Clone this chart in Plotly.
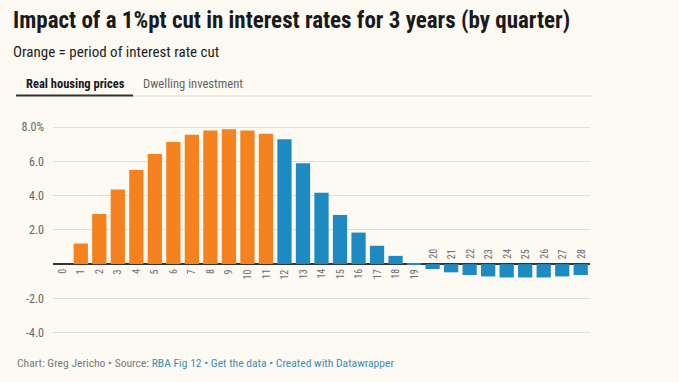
import plotly.graph_objects as go

# ---- data ----
quarters = list(range(29))
quarter_labels = [str(q) for q in quarters]
housing_prices = [0.0, 1.2, 2.93, 4.36, 5.5, 6.43, 7.13, 7.56, 7.81, 7.87, 7.81, 7.62,
                  7.29, 5.89, 4.17, 2.87, 1.84, 1.07, 0.48, 0.02,
                  -0.29, -0.48, -0.64, -0.72, -0.78, -0.78, -0.78, -0.72, -0.64]
cut_period_end = 11  # quarters 0..11 are the interest-rate-cut period
y_tick_vals = [-4, -2, 2, 4, 6, 8]
y_tick_text = ["-4.0", "-2.0", "2.0", "4.0", "6.0", "8.0%"]

title = "Impact of a 1%pt cut in interest rates for 3 years (by quarter)"
subtitle = "Orange = period of interest rate cut"
tabs = ["Real housing prices", "Dwelling investment"]

ORANGE = "#f5821f"
BLUE = "#1e8ac2"
BG = "#fdf9f3"
FONT = "Roboto Condensed, Liberation Sans Narrow, Roboto, sans-serif"

W, H = 679, 382
L, R, T, B = 53, 89, 122, 46
PW, PH = W - L - R, H - T - B


def px_x(px):
    return (px - L) / PW


def px_y(py):
    return (H - B - py) / PH


colors = [ORANGE if q <= cut_period_end else BLUE for q in quarters]

fig = go.Figure(
    go.Bar(x=quarters, y=housing_prices, marker=dict(color=colors, line=dict(width=0)),
           hoverinfo="x+y")
)

annotations = []
# rotated quarter labels: below axis for positive bars, above for negative bars
for q, lab, v in zip(quarters, quarter_labels, housing_prices):
    if v >= 0:
        annotations.append(dict(x=q, y=0, text=lab, textangle=-90, showarrow=False,
                                yanchor="top", xanchor="center", yshift=-3,
                                font=dict(size=10, color="#6b6b6b", family=FONT)))
    else:
        annotations.append(dict(x=q, y=0, text=lab, textangle=-90, showarrow=False,
                                yanchor="bottom", xanchor="center", yshift=3,
                                font=dict(size=10, color="#6b6b6b", family=FONT)))

# header texts
annotations += [
    dict(xref="paper", yref="paper", x=px_x(11), y=px_y(21), text="<b>" + title + "</b>",
         showarrow=False, xanchor="left", yanchor="middle",
         font=dict(size=23, color="#1a1a1a", family=FONT)),
    dict(xref="paper", yref="paper", x=px_x(11), y=px_y(52), text=subtitle,
         showarrow=False, xanchor="left", yanchor="middle",
         font=dict(size=15, color="#222222", family=FONT)),
    dict(xref="paper", yref="paper", x=px_x(24), y=px_y(83), text="<b>" + tabs[0] + "</b>",
         showarrow=False, xanchor="left", yanchor="middle",
         font=dict(size=12.5, color="#1a1a1a", family=FONT)),
    dict(xref="paper", yref="paper", x=px_x(141), y=px_y(83), text=tabs[1],
         showarrow=False, xanchor="left", yanchor="middle",
         font=dict(size=12.6, color="#666666", family=FONT)),
    dict(xref="paper", yref="paper", x=px_x(15), y=px_y(363),
         text="<span style='color:#7a7a7a'>Chart: Greg Jericho • Source: </span>"
              "<span style='color:#3c8fb5'>RBA Fig 12 • Get the data • Created with Datawrapper</span>",
         showarrow=False, xanchor="left", yanchor="middle",
         font=dict(size=11.6, color="#7a7a7a", family=FONT)),
]

shapes = [
    dict(type="line", xref="paper", yref="paper", x0=px_x(133), x1=px_x(591),
         y0=px_y(96), y1=px_y(96), line=dict(color="#dcdad6", width=1.2)),
    dict(type="line", xref="paper", yref="paper", x0=px_x(16), x1=px_x(133),
         y0=px_y(95.5), y1=px_y(95.5), line=dict(color="#333333", width=2.2)),
]

fig.update_layout(
    width=W, height=H,
    margin=dict(l=L, r=R, t=T, b=B, pad=0),
    paper_bgcolor=BG, plot_bgcolor=BG,
    bargap=0.23,
    showlegend=False,
    annotations=annotations,
    shapes=shapes,
    font=dict(family=FONT, color="#555555"),
)
fig.update_xaxes(range=[-0.5, 28.5], showticklabels=False, showgrid=False,
                 zeroline=False, showline=False, ticks="", fixedrange=True)
fig.update_yaxes(range=[-4.2, 8.3], tickvals=y_tick_vals, ticktext=y_tick_text,
                 showgrid=True, gridcolor="#e2dfdb", gridwidth=1,
                 zeroline=True, zerolinecolor="#333333", zerolinewidth=1.6,
                 ticks="", ticklabelstandoff=8, showline=False,
                 tickfont=dict(size=12, color="#666666", family=FONT), fixedrange=True)

fig.write_html(
    "out.html",
    config={"displayModeBar": False},
    post_script="document.body.style.margin='0';document.body.style.background='" + BG + "';",
)
